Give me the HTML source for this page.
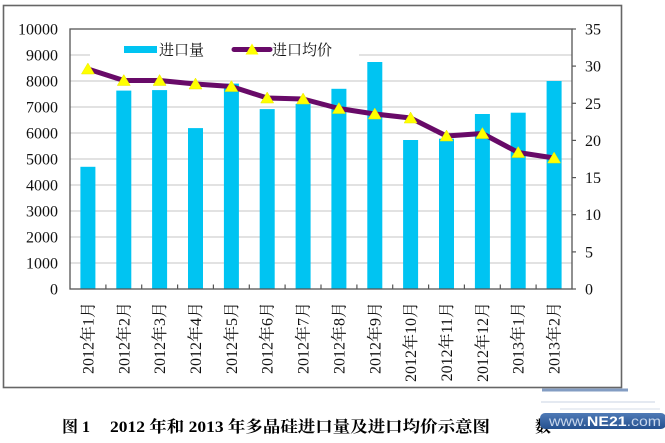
<!DOCTYPE html>
<html><head><meta charset="utf-8"><style>
html,body{margin:0;padding:0;background:#fff;}
svg{display:block;}
</style></head><body>
<svg width="665" height="443" viewBox="0 0 665 443" xmlns="http://www.w3.org/2000/svg">
<defs>
<linearGradient id="wm" x1="0" y1="0" x2="0" y2="1">
<stop offset="0" stop-color="#4f7ab6"/><stop offset="1" stop-color="#24508f"/>
</linearGradient>
</defs>
<rect width="665" height="443" fill="#fff"/>
<!-- frame -->
<rect x="3.5" y="5.5" width="618" height="382" fill="#fff" stroke="#666" stroke-width="1.6"/>
<rect x="542" y="388.5" width="86" height="3" fill="#4f74aa" opacity="0.7"/>
<!-- gridlines -->
<g stroke="#c6c6c6" stroke-width="1">
<line x1="70" y1="55" x2="572" y2="55"/>
<line x1="70" y1="81" x2="572" y2="81"/>
<line x1="70" y1="107" x2="572" y2="107"/>
<line x1="70" y1="133" x2="572" y2="133"/>
<line x1="70" y1="159" x2="572" y2="159"/>
<line x1="70" y1="185" x2="572" y2="185"/>
<line x1="70" y1="211" x2="572" y2="211"/>
<line x1="70" y1="237" x2="572" y2="237"/>
<line x1="70" y1="263" x2="572" y2="263"/>
</g>
<!-- legend background -->
<rect x="90" y="38" width="269" height="26" fill="#fff"/>
<!-- bars -->
<g fill="#00c4f2">
<rect x="80.4" y="166.8" width="15" height="122.2"/>
<rect x="116.3" y="90.6" width="15" height="198.4"/>
<rect x="152.1" y="90.1" width="15" height="198.9"/>
<rect x="188" y="128.1" width="15" height="160.9"/>
<rect x="223.9" y="83.6" width="15" height="205.4"/>
<rect x="259.7" y="109.1" width="15" height="179.9"/>
<rect x="295.6" y="103.9" width="15" height="185.1"/>
<rect x="331.4" y="88.8" width="15" height="200.2"/>
<rect x="367.3" y="62" width="15" height="227"/>
<rect x="403.1" y="140" width="15" height="149"/>
<rect x="439" y="138.7" width="15" height="150.3"/>
<rect x="474.9" y="114" width="15" height="175"/>
<rect x="510.7" y="112.7" width="15" height="176.3"/>
<rect x="546.6" y="81" width="15" height="208"/>
</g>
<!-- plot border -->
<rect x="70" y="29" width="502" height="260" fill="none" stroke="#555" stroke-width="1.3"/>
<!-- x ticks -->
<g stroke="#555" stroke-width="1.2">
<line x1="105.9" y1="284.5" x2="105.9" y2="289"/>
<line x1="141.7" y1="284.5" x2="141.7" y2="289"/>
<line x1="177.6" y1="284.5" x2="177.6" y2="289"/>
<line x1="213.4" y1="284.5" x2="213.4" y2="289"/>
<line x1="249.3" y1="284.5" x2="249.3" y2="289"/>
<line x1="285.1" y1="284.5" x2="285.1" y2="289"/>
<line x1="321" y1="284.5" x2="321" y2="289"/>
<line x1="356.9" y1="284.5" x2="356.9" y2="289"/>
<line x1="392.7" y1="284.5" x2="392.7" y2="289"/>
<line x1="428.6" y1="284.5" x2="428.6" y2="289"/>
<line x1="464.4" y1="284.5" x2="464.4" y2="289"/>
<line x1="500.3" y1="284.5" x2="500.3" y2="289"/>
<line x1="536.1" y1="284.5" x2="536.1" y2="289"/>
<!-- right ticks -->
<line x1="572" y1="29" x2="576" y2="29"/>
<line x1="572" y1="66.1" x2="576" y2="66.1"/>
<line x1="572" y1="103.3" x2="576" y2="103.3"/>
<line x1="572" y1="140.4" x2="576" y2="140.4"/>
<line x1="572" y1="177.6" x2="576" y2="177.6"/>
<line x1="572" y1="214.7" x2="576" y2="214.7"/>
<line x1="572" y1="251.9" x2="576" y2="251.9"/>
<line x1="572" y1="289" x2="576" y2="289"/>
</g>
<!-- line series -->
<polyline fill="none" stroke="#680a68" stroke-width="5" stroke-linejoin="round"
points="87.9,69 123.8,80.5 159.6,80.5 195.5,84 231.4,86.5 267.2,98 303.1,99 338.9,108.5 374.8,114 410.6,118 446.5,136 482.4,133.5 518.2,152.5 554.1,158"/>
<g fill="#ffff00" stroke="#e8e800" stroke-width="0.5">
<polygon points="87.9,63 81.4,74 94.4,74"/>
<polygon points="123.8,74.5 117.3,85.5 130.3,85.5"/>
<polygon points="159.6,74.5 153.1,85.5 166.1,85.5"/>
<polygon points="195.5,78 189,89 202,89"/>
<polygon points="231.4,80.5 224.9,91.5 237.9,91.5"/>
<polygon points="267.2,92 260.7,103 273.7,103"/>
<polygon points="303.1,93 296.6,104 309.6,104"/>
<polygon points="338.9,102.5 332.4,113.5 345.4,113.5"/>
<polygon points="374.8,108 368.3,119 381.3,119"/>
<polygon points="410.6,112 404.1,123 417.1,123"/>
<polygon points="446.5,130 440,141 453,141"/>
<polygon points="482.4,127.5 475.9,138.5 488.9,138.5"/>
<polygon points="518.2,146.5 511.7,157.5 524.7,157.5"/>
<polygon points="554.1,152 547.6,163 560.6,163"/>
</g>
<!-- legend -->
<rect x="124" y="46" width="33" height="7" fill="#00c4f2"/>
<text x="159" y="55" font-family="'Liberation Serif','Noto Serif CJK SC',serif" font-size="15" fill="#111">进口量</text>
<line x1="234" y1="49.5" x2="270" y2="49.5" stroke="#680a68" stroke-width="5" stroke-linecap="round"/>
<polygon points="252,43.5 245.5,54.5 258.5,54.5" fill="#ffff00"/>
<text x="272" y="55" font-family="'Liberation Serif','Noto Serif CJK SC',serif" font-size="15" fill="#111">进口均价</text>
<!-- left axis labels -->
<g font-family="'Liberation Serif',serif" font-size="16" fill="#111" text-anchor="end">
<text x="58" y="34.5">10000</text>
<text x="58" y="60.5">9000</text>
<text x="58" y="86.5">8000</text>
<text x="58" y="112.5">7000</text>
<text x="58" y="138.5">6000</text>
<text x="58" y="164.5">5000</text>
<text x="58" y="190.5">4000</text>
<text x="58" y="216.5">3000</text>
<text x="58" y="242.5">2000</text>
<text x="58" y="268.5">1000</text>
<text x="58" y="294.5">0</text>
</g>
<!-- right axis labels -->
<g font-family="'Liberation Serif',serif" font-size="16" fill="#111" text-anchor="start">
<text x="585" y="34.5">35</text>
<text x="585" y="71.6">30</text>
<text x="585" y="108.8">25</text>
<text x="585" y="145.9">20</text>
<text x="585" y="183.1">15</text>
<text x="585" y="220.2">10</text>
<text x="585" y="257.4">5</text>
<text x="585" y="294.5">0</text>
</g>
<!-- x labels -->
<g font-family="'Liberation Serif','Noto Serif CJK SC',serif" font-size="16" fill="#111" text-anchor="end">
<text transform="translate(93.4,302) rotate(-90)">2012年1月</text>
<text transform="translate(129.3,302) rotate(-90)">2012年2月</text>
<text transform="translate(165.1,302) rotate(-90)">2012年3月</text>
<text transform="translate(201,302) rotate(-90)">2012年4月</text>
<text transform="translate(236.9,302) rotate(-90)">2012年5月</text>
<text transform="translate(272.7,302) rotate(-90)">2012年6月</text>
<text transform="translate(308.6,302) rotate(-90)">2012年7月</text>
<text transform="translate(344.4,302) rotate(-90)">2012年8月</text>
<text transform="translate(380.3,302) rotate(-90)">2012年9月</text>
<text transform="translate(416.1,302) rotate(-90)">2012年10月</text>
<text transform="translate(452,302) rotate(-90)">2012年11月</text>
<text transform="translate(487.9,302) rotate(-90)">2012年12月</text>
<text transform="translate(523.7,302) rotate(-90)">2013年1月</text>
<text transform="translate(559.6,302) rotate(-90)">2013年2月</text>
</g>
<!-- caption -->
<g font-family="'Liberation Serif','Noto Serif CJK SC',serif" font-size="16" font-weight="bold" fill="#000">
<text x="62" y="432">图 1</text>
<text x="110" y="432" textLength="380" lengthAdjust="spacingAndGlyphs">2012 年和 2013 年多晶硅进口量及进口均价示意图</text>
<text x="535" y="432">数</text>
</g>
<!-- watermark -->
<line x1="541" y1="402" x2="655" y2="402" stroke="#c9d3e3" stroke-width="1"/>
<line x1="560" y1="409" x2="660" y2="409" stroke="#d5dcea" stroke-width="1"/>
<rect x="540" y="413" width="126" height="16" rx="5" fill="url(#wm)"/>
<text x="549" y="426" font-family="'Liberation Sans',sans-serif" font-size="14" fill="#c7d6ec" textLength="112" lengthAdjust="spacingAndGlyphs">www.<tspan font-weight="bold" fill="#fff">NE21</tspan>.com</text>
</svg>
</body></html>
